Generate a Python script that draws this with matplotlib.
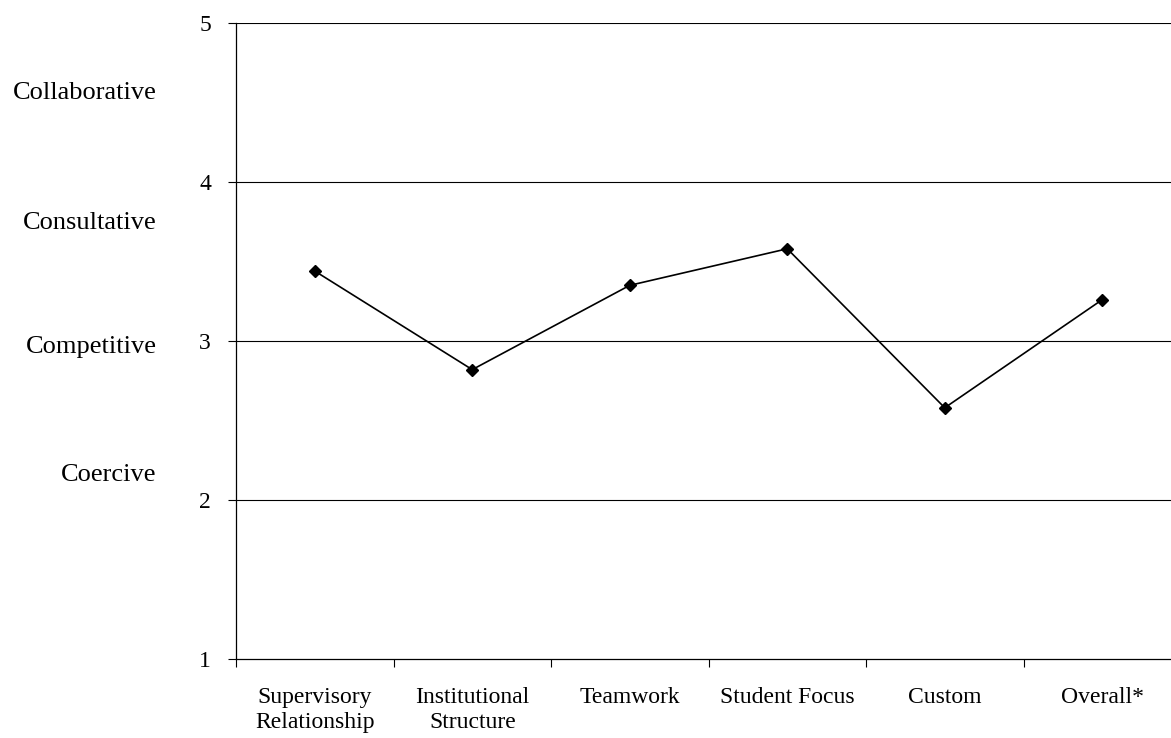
import matplotlib.pyplot as plt
import numpy as np

plt.rcParams['font.family'] = ['Liberation Serif', 'DejaVu Serif']

categories = ["Supervisory\nRelationship", "Institutional\nStructure", "Teamwork",
              "Student Focus", "Custom", "Overall*"]
values = [3.44, 2.82, 3.35, 3.58, 2.58, 3.26]
styles = ["Coercive", "Competitive", "Consultative", "Collaborative"]
style_y = [2.16, 2.96, 3.74, 4.56]

fig = plt.figure(figsize=(11.71, 7.38), dpi=100)
ax = fig.add_axes([236 / 1171, 1 - 659 / 738, (1181 - 236) / 1171, (659 - 23) / 738])

x = np.arange(len(categories)) + 0.5
ax.plot(x, values, color="black", lw=1.2, marker="D", ms=6.5)

ax.set_xlim(0, len(categories))
ax.set_ylim(1, 5)
ax.set_yticks([1, 2, 3, 4, 5])
for y in [2, 3, 4, 5]:
    ax.axhline(y, color="black", lw=0.8)
ax.set_xticks(np.arange(len(categories) + 1))
ax.set_xticklabels([])
ax.set_xticks(x, minor=True)
ax.set_xticklabels(categories, minor=True, fontsize=17, linespacing=1.25)
ax.tick_params(axis="x", which="minor", length=0, pad=20)
ax.tick_params(axis="x", which="major", length=6, direction="out")
ax.tick_params(axis="y", length=6, direction="out", labelsize=17, pad=12)
for s in ["top", "right"]:
    ax.spines[s].set_visible(False)
ax.spines["left"].set_linewidth(0.9)
ax.spines["bottom"].set_linewidth(0.9)

for s, yv in zip(styles, style_y):
    ax.text(-0.084, yv, s, ha="right", va="center", fontsize=19,
            transform=ax.get_yaxis_transform())

fig.savefig("out.png", dpi=100)
